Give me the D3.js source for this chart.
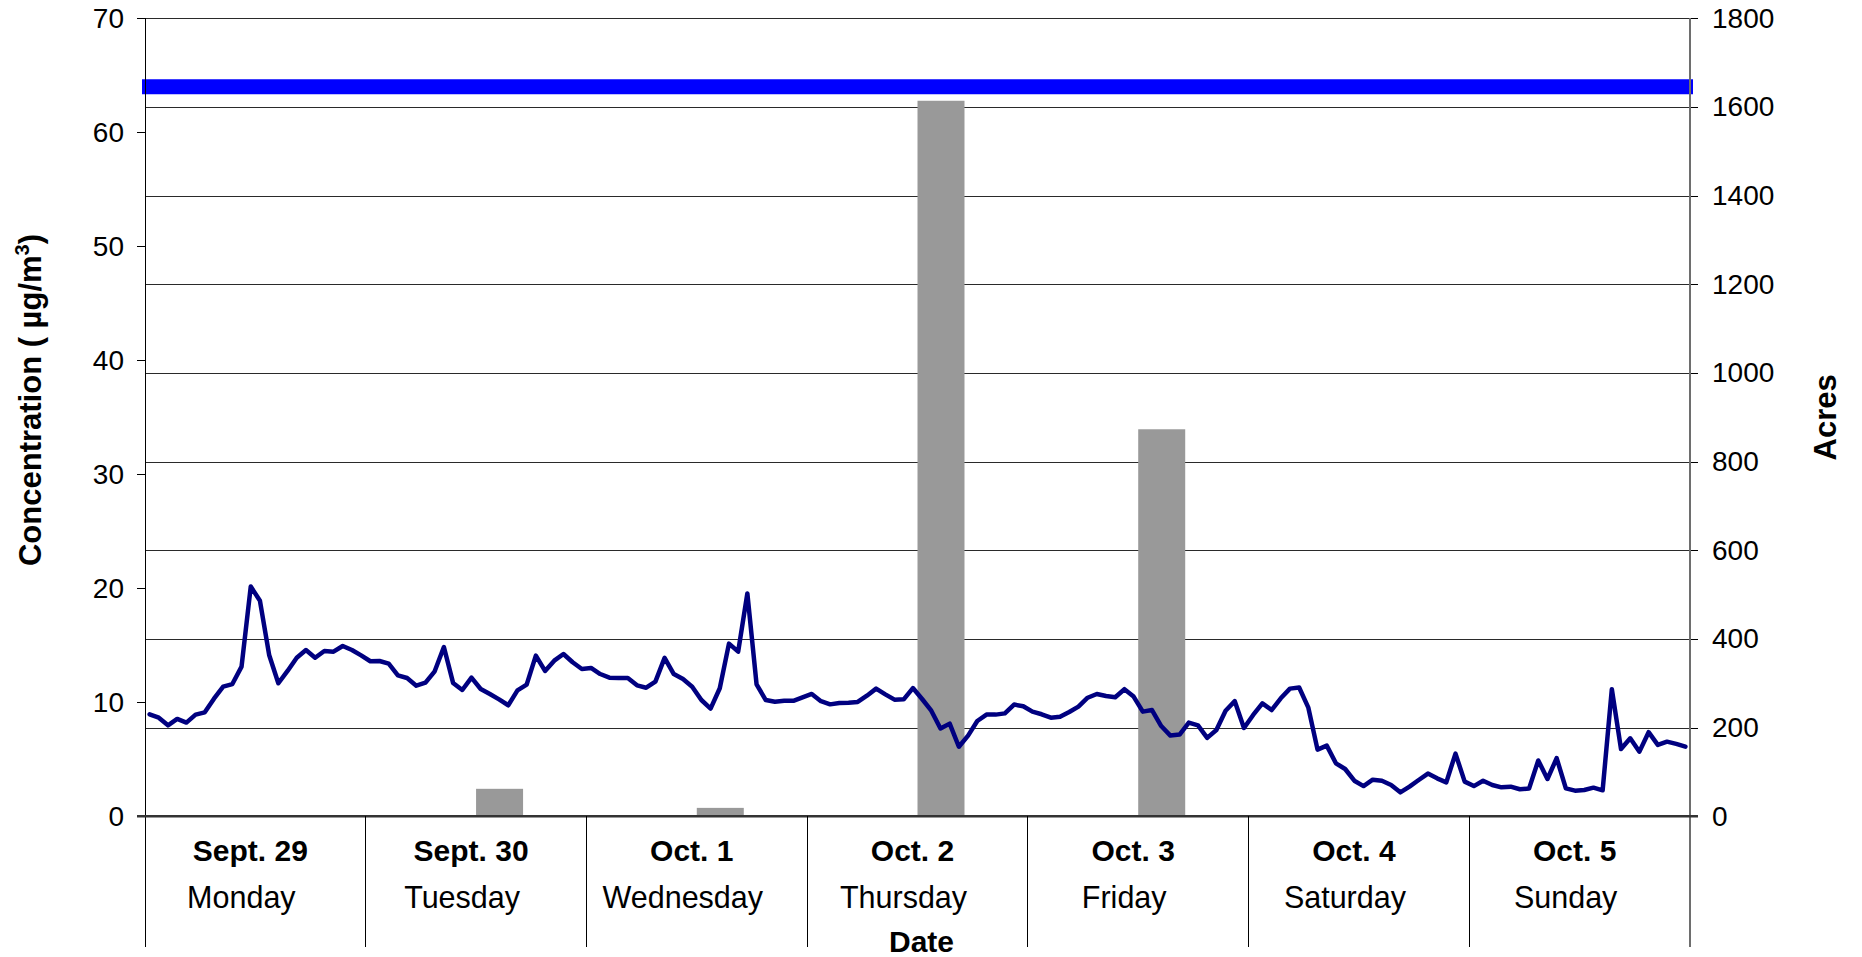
<!DOCTYPE html>
<html>
<head>
<meta charset="utf-8">
<script src="https://cdn.jsdelivr.net/npm/d3@7"></script>
<style>
  body { margin: 0; background: #fff; }
  svg { display: block; }
  text { font-family: "Liberation Sans", Arial, Helvetica, sans-serif; fill: #000; }
</style>
</head>
<body>
<svg id="chart" width="1862" height="957"></svg>
<script>
// ---- data ----
const days = ["Sept. 29", "Sept. 30", "Oct. 1", "Oct. 2", "Oct. 3", "Oct. 4", "Oct. 5"];
const weekdays = ["Monday", "Tuesday", "Wednesday", "Thursday", "Friday", "Saturday", "Sunday"];

// acres burned per day (right axis)
const acres = [0, 62, 19, 1614, 873, 0, 0];

// hourly PM concentration, µg/m³ (left axis), Monday 00:00 through Sunday 23:00
const concentration = [
  8.95, 8.65, 7.98, 8.54, 8.22, 8.92, 9.12, 10.32, 11.37, 11.6, 13.13, 20.15,
  18.9, 14.15, 11.67, 12.75, 13.91, 14.59, 13.91, 14.5, 14.44, 14.94, 14.59, 14.12,
  13.6, 13.62, 13.39, 12.37, 12.13, 11.46, 11.72, 12.72, 14.85, 11.7, 11.08, 12.16,
  11.17, 10.73, 10.26, 9.74, 11.05, 11.55, 14.1, 12.75, 13.65, 14.24, 13.51, 12.92,
  13.01, 12.48, 12.16, 12.13, 12.13, 11.49, 11.28, 11.81, 13.9, 12.48, 12.04, 11.37,
  10.2, 9.45, 11.23, 15.15, 14.44, 19.55, 11.58, 10.2, 10.05, 10.13, 10.13, 10.44,
  10.73, 10.1, 9.82, 9.94, 9.97, 10.03, 10.58, 11.2, 10.7, 10.23, 10.26, 11.25,
  10.29, 9.26, 7.7, 8.13, 6.1, 7.08, 8.36, 8.92, 8.92, 9.03, 9.8, 9.65,
  9.18, 8.95, 8.65, 8.74, 9.15, 9.62, 10.4, 10.73, 10.55, 10.44, 11.15, 10.5,
  9.18, 9.32, 7.92, 7.08, 7.17, 8.22, 7.98, 6.88, 7.57, 9.26, 10.1, 7.75,
  8.89, 9.91, 9.32, 10.35, 11.2, 11.3, 9.53, 5.85, 6.2, 4.65, 4.15, 3.12,
  2.65, 3.21, 3.12, 2.75, 2.1, 2.6, 3.18, 3.75, 3.33, 2.98, 5.5, 3.04,
  2.65, 3.12, 2.75, 2.54, 2.6, 2.37, 2.43, 4.9, 3.27, 5.1, 2.45, 2.25,
  2.31, 2.51, 2.28, 11.15, 5.9, 6.84, 5.67, 7.38, 6.26, 6.55, 6.35, 6.11
];

// reference level drawn across the chart, µg/m³
const threshold = [64];

const leftTicks = [0, 10, 20, 30, 40, 50, 60, 70];
const rightTicks = [0, 200, 400, 600, 800, 1000, 1200, 1400, 1600, 1800];

// ---- layout ----
const svg = d3.select("#chart");
const plot = { left: 145, right: 1690, top: 18.3, bottom: 816.3 };
const axisFoot = 947; // bottom of the category separator lines

const xDay = d3.scaleBand().domain(days).range([plot.left, plot.right]);
const xHour = d3.scaleBand().domain(d3.range(concentration.length)).range([plot.left, plot.right]);
// two slots per day, the acres column sits in the second one
const xSlot = d3.scaleBand().domain(["", "acres"])
  .range([xDay.bandwidth() / 2 - 47, xDay.bandwidth() / 2 + 47]);

const yConc = d3.scaleLinear().domain([0, 70]).range([plot.bottom, plot.top]);
const yAcres = d3.scaleLinear().domain([0, 1800]).range([plot.bottom, plot.top]);

const tickFont = 28;
const plain = d3.format("d");

// ---- horizontal gridlines (secondary-axis ticks) ----
svg.append("g")
  .attr("transform", `translate(${plot.right},0)`)
  .call(d3.axisLeft(yAcres).tickValues(rightTicks).tickSize(plot.right - plot.left).tickFormat(""))
  .call(g => g.select(".domain").remove())
  .call(g => g.selectAll(".tick line")
    .attr("stroke", "#2a2a2a").attr("stroke-width", 1).attr("shape-rendering", "crispEdges"));

// ---- acres columns ----
svg.append("g")
  .selectAll("rect")
  .data(days.map((d, i) => ({ day: d, value: acres[i] })).filter(d => d.value > 0))
  .join("rect")
  .attr("x", d => xDay(d.day) + xSlot("acres"))
  .attr("width", xSlot.bandwidth())
  .attr("y", d => yAcres(d.value))
  .attr("height", d => yAcres(0) - yAcres(d.value))
  .attr("fill", "#999999");

// ---- concentration line ----
const line = d3.line()
  .x((d, i) => xHour(i) + xHour.bandwidth() / 2)
  .y(d => yConc(d));

svg.append("path")
  .datum(concentration)
  .attr("d", line)
  .attr("fill", "none")
  .attr("stroke", "#000080")
  .attr("stroke-width", 4.5)
  .attr("stroke-linejoin", "round")
  .attr("stroke-linecap", "round");

// ---- reference level ----
svg.append("g")
  .selectAll("line")
  .data(threshold)
  .join("line")
  .attr("x1", plot.left - 3)
  .attr("x2", plot.right + 3)
  .attr("y1", d => yConc(d))
  .attr("y2", d => yConc(d))
  .attr("stroke", "#0000ff")
  .attr("stroke-width", 15);

// ---- left axis ----
const gLeft = svg.append("g")
  .attr("transform", `translate(${plot.left},0)`)
  .call(d3.axisLeft(yConc).tickValues(leftTicks).tickFormat(plain).tickSize(8).tickPadding(13))
  .call(g => g.select(".domain").remove());
gLeft.selectAll(".tick line").attr("stroke", "#000").attr("shape-rendering", "crispEdges");
gLeft.selectAll(".tick text").attr("font-size", tickFont).attr("fill", "#000")
  .style("font-family", '"Liberation Sans", Arial, sans-serif');

svg.append("line")
  .attr("x1", plot.left).attr("x2", plot.left)
  .attr("y1", plot.top).attr("y2", axisFoot)
  .attr("stroke", "#000").attr("stroke-width", 1).attr("shape-rendering", "crispEdges");

// ---- right axis ----
const gRight = svg.append("g")
  .attr("transform", `translate(${plot.right},0)`)
  .call(d3.axisRight(yAcres).tickValues(rightTicks).tickFormat(plain).tickSize(8).tickPadding(14))
  .call(g => g.select(".domain").remove());
gRight.selectAll(".tick line").attr("stroke", "#000").attr("shape-rendering", "crispEdges");
gRight.selectAll(".tick text").attr("font-size", tickFont).attr("fill", "#000")
  .style("font-family", '"Liberation Sans", Arial, sans-serif');

svg.append("line")
  .attr("x1", plot.right).attr("x2", plot.right)
  .attr("y1", plot.top).attr("y2", axisFoot)
  .attr("stroke", "#6e6e6e").attr("stroke-width", 1.5).attr("shape-rendering", "crispEdges");

// ---- category axis ----
svg.append("line")
  .attr("x1", plot.left - 8).attr("x2", plot.right + 8)
  .attr("y1", plot.bottom).attr("y2", plot.bottom)
  .attr("stroke", "#333").attr("stroke-width", 2.5);

svg.append("g")
  .selectAll("line")
  .data(days.slice(1))
  .join("line")
  .attr("x1", d => xDay(d)).attr("x2", d => xDay(d))
  .attr("y1", plot.bottom).attr("y2", axisFoot)
  .attr("stroke", "#000").attr("stroke-width", 1).attr("shape-rendering", "crispEdges");

const gCat = svg.append("g");
gCat.selectAll("text.date")
  .data(days)
  .join("text")
  .attr("class", "date")
  .attr("x", d => xDay(d) + xDay.bandwidth() / 2 - 5)
  .attr("y", 861)
  .attr("text-anchor", "middle")
  .attr("font-size", 30)
  .attr("font-weight", "bold")
  .text(d => d);

gCat.selectAll("text.weekday")
  .data(weekdays)
  .join("text")
  .attr("class", "weekday")
  .attr("x", (d, i) => xDay(days[i]) + xDay.bandwidth() / 2 - 14)
  .attr("y", 908)
  .attr("text-anchor", "middle")
  .attr("font-size", 30.5)
  .text(d => d);

// ---- axis titles ----
svg.append("text")
  .attr("x", (plot.left + plot.right) / 2 + 4)
  .attr("y", 952)
  .attr("text-anchor", "middle")
  .attr("font-size", 30)
  .attr("font-weight", "bold")
  .text("Date");

const yTitle = svg.append("text")
  .attr("transform", "translate(41,400) rotate(-90)")
  .attr("text-anchor", "middle")
  .attr("font-size", 31)
  .attr("font-weight", "bold");
yTitle.append("tspan").text("Concentration ( µg/m");
yTitle.append("tspan").attr("font-size", 20).attr("dy", -12).text("3");
yTitle.append("tspan").attr("dy", 12).text(")");

svg.append("text")
  .attr("transform", `translate(1836,${(plot.top + plot.bottom) / 2}) rotate(-90)`)
  .attr("text-anchor", "middle")
  .attr("font-size", 31)
  .attr("font-weight", "bold")
  .text("Acres");
</script>
</body>
</html>
